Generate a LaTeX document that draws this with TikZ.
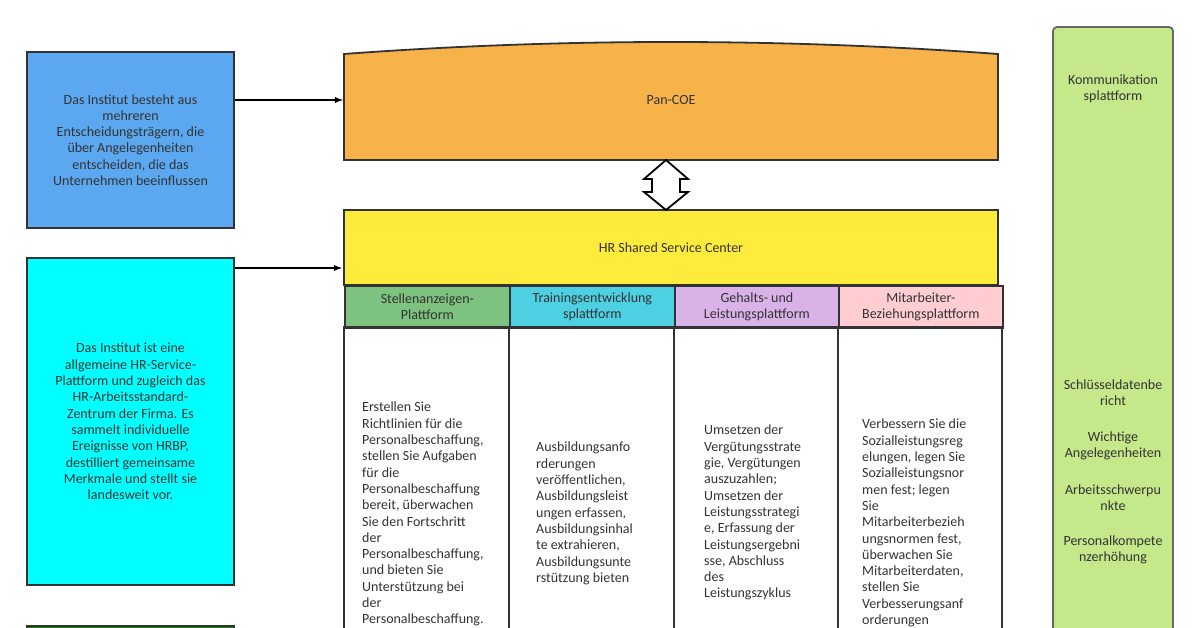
\documentclass[tikz,border=0pt]{standalone}
\usepackage{fontspec}
\setmainfont{Carlito}
\usetikzlibrary{positioning}
\definecolor{bluebox}{HTML}{5BA8F0}
\definecolor{cyanbox}{HTML}{00FFFF}
\definecolor{orangebox}{HTML}{F8B24A}
\definecolor{yellowbox}{HTML}{FFEB3B}
\definecolor{greenhead}{HTML}{7DC27F}
\definecolor{cyanhead}{HTML}{4DD0E1}
\definecolor{lilachead}{HTML}{D9B2E8}
\definecolor{pinkhead}{HTML}{FFCDD2}
\definecolor{lime}{HTML}{C5E88A}
\definecolor{txt}{HTML}{333333}
\tikzset{
  box/.style={draw=black!80, line width=1.8pt, inner sep=0pt, text=txt, align=center},
  body/.style={anchor=north west, inner sep=0pt, align=left, text=txt},
  side/.style={text=txt, align=center, inner sep=0pt}
}
\begin{document}
\begin{tikzpicture}[x=1pt,y=-1pt,font=\fontsize{14}{16.3}\selectfont]
  \useasboundingbox (0,0) rectangle (1200,628);
  \clip (0,0) rectangle (1200,628);

  % left boxes
  \node[box, fill=bluebox, minimum width=207, minimum height=176] (inst) at (130.5,140)
    {Das Institut besteht aus\\mehreren\\Entscheidungstr\"agern, die\\\"uber Angelegenheiten\\entscheiden, die das\\Unternehmen beeinflussen};
  \node[box, fill=cyanbox, minimum width=207, minimum height=327] (hrsp) at (130.5,421.5)
    {Das Institut ist eine\\allgemeine HR-Service-\\Plattform und zugleich das\\HR-Arbeitsstandard-\\Zentrum der Firma. Es\\sammelt individuelle\\Ereignisse von HRBP,\\destilliert gemeinsame\\Merkmale und stellt sie\\landesweit vor.};
  \draw[line width=1.8pt, draw=black!80, fill=green!55!black] (27,626) rectangle (234,660);

  % Pan-COE
  \draw[line width=1.8pt, draw=black!80, fill=orangebox] (344,160) -- (344,54) .. controls (560,38) and (782,38) .. (998,54) -- (998,160) -- cycle;
  \node[text=txt] (coe) at (671,100) {Pan-COE};

  % HR shared service center
  \node[box, fill=yellowbox, minimum width=654, minimum height=75] (hrssc) at (671,247.5) {HR Shared Service Center};

  % double arrow
  \draw[line width=1.8pt, fill=white] (666,160) -- (688,179) -- (680,179) -- (680,192) -- (688,192) -- (666,210)
    -- (644,192) -- (652,192) -- (652,179) -- (644,179) -- cycle;

  % columns
  \node[box, fill=greenhead, minimum width=165, minimum height=42, anchor=north west] (h1) at (344,285) {Stellenanzeigen-\\Plattform};
  \node[box, fill=cyanhead, minimum width=165, minimum height=42, anchor=north west] (h2) at (509,285) {Trainingsentwicklung\\splattform};
  \node[box, fill=lilachead, minimum width=164, minimum height=42, anchor=north west] (h3) at (674,285) {Gehalts- und\\Leistungsplattform};
  \node[box, fill=pinkhead, minimum width=164, minimum height=42, anchor=north west] (h4) at (838,285) {Mitarbeiter-\\Beziehungsplattform};
  \foreach \a/\b in {344/509,509/674,674/838,838/1002}
    \draw[line width=1.8pt, draw=black!80] (\a,327) rectangle (\b,660);

  \node[body] (t1) at (362,402) {Erstellen Sie\\Richtlinien f\"ur die\\Personalbeschaffung,\\stellen Sie Aufgaben\\f\"ur die\\Personalbeschaffung\\bereit, \"uberwachen\\Sie den Fortschritt\\der\\Personalbeschaffung,\\und bieten Sie\\Unterst\"utzung bei\\der\\Personalbeschaffung.};
  \node[body] (t2) at (536,442) {Ausbildungsanfo\\rderungen\\ver\"offentlichen,\\Ausbildungsleist\\ungen erfassen,\\Ausbildungsinhal\\te extrahieren,\\Ausbildungsunte\\rst\"utzung bieten};
  \node[body] (t3) at (704,425) {Umsetzen der\\Verg\"utungsstrate\\gie, Verg\"utungen\\auszuzahlen;\\Umsetzen der\\Leistungsstrategi\\e, Erfassung der\\Leistungsergebni\\sse, Abschluss\\des\\Leistungszyklus};
  \node[body] (t4) at (862,419) {Verbessern Sie die\\Sozialleistungsreg\\elungen, legen Sie\\Sozialleistungsnor\\men fest; legen\\Sie\\Mitarbeiterbezieh\\ungsnormen fest,\\\"uberwachen Sie\\Mitarbeiterdaten,\\stellen Sie\\Verbesserungsanf\\orderungen};

  % right bar
  \draw[line width=1.8pt, draw=black!60, fill=lime, rounded corners=4] (1053,27) rectangle (1173,660);
  \node[side] (komm) at (1113,89) {Kommunikation\\splattform};
  \node[side] (schl) at (1113,393) {Schl\"usseldatenbe\\richt};
  \node[side] (wicht) at (1113,446) {Wichtige\\Angelegenheiten};
  \node[side] (arb) at (1113,498) {Arbeitsschwerpu\\nkte};
  \node[side] (pers) at (1113,550) {Personalkompete\\nzerh\"ohung};

  % arrows
  \draw[-latex, line width=1.8pt, shorten >=1] (inst.east |- 0,100) -- (344,100);
  \draw[-latex, line width=1.8pt, shorten >=1] (hrsp.east |- 0,268) -- (hrssc.west |- 0,268);
\end{tikzpicture}
\end{document}
